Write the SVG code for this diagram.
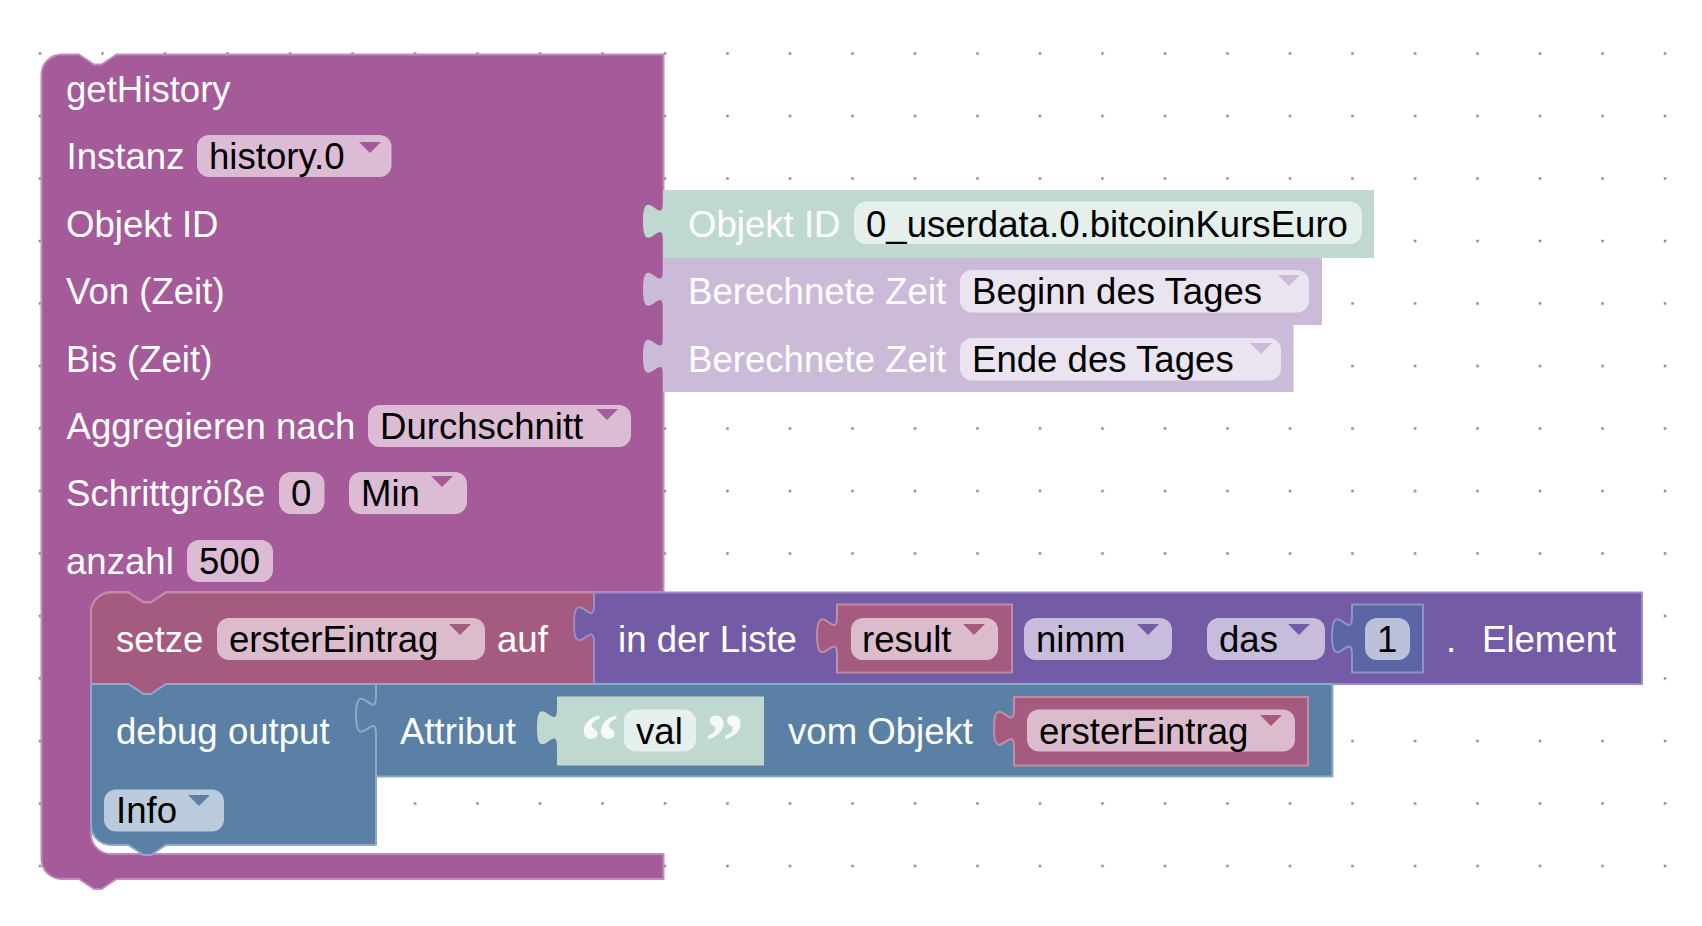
<svg xmlns="http://www.w3.org/2000/svg" width="1702" height="926" viewBox="0 0 1702 926">
<style>
text{font-family:"Liberation Sans",Arial,sans-serif;font-size:36.6px}
.l{fill:#fff}.f{fill:#000}
.b{stroke-width:2;stroke-linejoin:round}
.proc{fill:#a55b99;stroke:#c08cb8}
.rose{fill:#a55b80;stroke:#c08ca6}
.list{fill:#745ba5;stroke:#9e8cc4}
.dbg{fill:#5b80a5;stroke:#8daac8}
.num{fill:#5b67a5;stroke:#8c95c4}
.teal{fill:#bfd9d0}
.lav{fill:#cbbbd9}
.pp{fill:#dcbcd5}.pr{fill:#dcbccc}.pl{fill:#c7bcdc}.pd{fill:#bccbdb}.pn{fill:#bcc1db}.pt{fill:#e5f0ec}.pv{fill:#eae4f0}
.ap{fill:#a55b99}.ar{fill:#a55b80}.al{fill:#745ba5}.ad{fill:#5b80a5}.av{fill:#cbbbd9}
.q{font-family:"Liberation Serif",serif;font-size:78px;font-weight:bold;fill:#fff;opacity:.85}
</style>
<defs>
<pattern id="grid" x="40" y="53.5" width="62.5" height="62.5" patternUnits="userSpaceOnUse">
<rect x="0" y="0" width="2.5" height="2.5" fill="#888"/>
</pattern>
</defs>
<rect id="grid-bg" width="1702" height="926" fill="url(#grid)" transform="translate(-1.25 -1.25)"/>
<g id="connectors"/>
<g id="getHistory">
<path class="b proc" d="M41.5,74.5 A20,20 0 0 1 61.5,54.5 H79 l15,10 7.5,0 15,-10 H663.5 V592 H166 l-15,10 -7.5,0 -15,-10 H111 a20,20 0 0 0 -20,20 V834 a20,20 0 0 0 20,20 H663.5 V879 H116.5 l-15,10 -7.5,0 -15,-10 H61.5 A20,20 0 0 1 41.5,859 Z"/>
<text class="l" x="66" y="102">getHistory</text>
<text class="l" x="66.5" y="169">Instanz</text>
<rect class="pp" x="197" y="135" width="194.5" height="42" rx="12"/>
<text class="f" x="209" y="169">history.0</text>
<path class="ap" d="M359,142 h22 l-11,11 Z"/>
<text class="l" x="66" y="237">Objekt ID</text>
<text class="l" x="66" y="304">Von (Zeit)</text>
<text class="l" x="66" y="372">Bis (Zeit)</text>
<text class="l" x="66.5" y="439">Aggregieren nach</text>
<rect class="pp" x="368" y="405" width="263" height="42" rx="12"/>
<text class="f" x="380" y="439">Durchschnitt</text>
<path class="ap" d="M596,409 h22 l-11,11 Z"/>
<text class="l" x="66" y="506">Schrittgröße</text>
<rect class="pp" x="279" y="472" width="45.5" height="42" rx="12"/>
<text class="f" x="291" y="506">0</text>
<rect class="pp" x="349" y="472" width="118" height="42" rx="12"/>
<text class="f" x="361" y="506">Min</text>
<path class="ap" d="M431,476 h22 l-11,11 Z"/>
<text class="l" x="66" y="574">anzahl</text>
<rect class="pp" x="187" y="540" width="86" height="42" rx="12"/>
<text class="f" x="199" y="574">500</text>
</g>
<g id="objekt-id">
<path class="teal" d="M663,190 v12.5 c0,25 -20,-20 -20,18.75 s20,-6.25 20,18.75 V258 H1374 V190 Z"/>
<text class="l" x="688" y="237">Objekt ID</text>
<rect class="pt" x="854" y="201.5" width="508" height="42.5" rx="12"/>
<text class="f" x="866" y="237">0_userdata.0.bitcoinKursEuro</text>
</g>
<g id="zeit-von">
<path class="lav" d="M663,258 v12.5 c0,25 -20,-20 -20,18.75 s20,-6.25 20,18.75 V325 H1322 V258 Z"/>
<text class="l" x="688" y="304">Berechnete Zeit</text>
<rect class="pv" x="960" y="270" width="349" height="42.5" rx="12"/>
<text class="f" x="972" y="304">Beginn des Tages</text>
<path class="av" d="M1278,275 h22 l-11,11 Z"/>
</g>
<g id="zeit-bis">
<path class="lav" d="M663,325 v12.5 c0,25 -20,-20 -20,18.75 s20,-6.25 20,18.75 V392 H1293.5 V325 Z"/>
<text class="l" x="688" y="372">Berechnete Zeit</text>
<rect class="pv" x="960" y="338" width="321" height="42.5" rx="12"/>
<text class="f" x="972" y="372">Ende des Tages</text>
<path class="av" d="M1250,343 h22 l-11,11 Z"/>
</g>
<g id="setze">
<path class="b rose" d="M91,612.5 a20,20 0 0 1 20,-20 H128.5 l15,10 7.5,0 15,-10 H594 V684 H166 l-15,10 -7.5,0 -15,-10 H91 Z"/>
<text class="l" x="116" y="652">setze</text>
<rect class="pr" x="217" y="618" width="268" height="42" rx="12"/>
<text class="f" x="229" y="652">ersterEintrag</text>
<path class="ar" d="M449,624 h22 l-11,11 Z"/>
<text class="l" x="497" y="652">auf</text>
</g>
<g id="liste">
<path class="b list" d="M594,592.5 v12.5 c0,25 -20,-20 -20,18.75 s20,-6.25 20,18.75 V684 H1642 V592.5 Z"/>
<text class="l" x="618" y="652">in der Liste</text>
<rect class="pl" x="1024" y="618" width="148" height="42" rx="12"/>
<text class="f" x="1036" y="652">nimm</text>
<path class="al" d="M1137,624 h22 l-11,11 Z"/>
<rect class="pl" x="1207" y="618" width="118" height="42" rx="12"/>
<text class="f" x="1219" y="652">das</text>
<path class="al" d="M1288,624 h22 l-11,11 Z"/>
<text class="l" x="1446" y="652">.</text>
<text class="l" x="1482" y="652">Element</text>
</g>
<g id="result">
<path class="b rose" d="M837,604.5 v12.5 c0,25 -20,-20 -20,18.75 s20,-6.25 20,18.75 V672.5 H1012 V604.5 Z"/>
<rect class="pr" x="851" y="618" width="147" height="42" rx="12"/>
<text class="f" x="862" y="652">result</text>
<path class="ar" d="M963,624 h22 l-11,11 Z"/>
</g>
<g id="num1">
<path class="b num" d="M1352,604.5 v12.5 c0,25 -20,-20 -20,18.75 s20,-6.25 20,18.75 V672.5 H1423 V604.5 Z"/>
<rect class="pn" x="1365" y="618" width="45" height="42" rx="12"/>
<text class="f" x="1377" y="652">1</text>
</g>
<g id="debug">
<path class="b dbg" d="M91,684 H128.5 l15,10 7.5,0 15,-10 H376 V845 H166 l-15,10 -7.5,0 -15,-10 H111 a20,20 0 0 1 -20,-20 Z"/>
<text class="l" x="116" y="744">debug output</text>
<rect class="pd" x="104" y="789.5" width="120" height="42" rx="12"/>
<text class="f" x="116" y="823">Info</text>
<path class="ad" d="M188,795 h22 l-11,11 Z"/>
</g>
<g id="attribut">
<path class="b dbg" d="M376,684 v12.5 c0,25 -20,-20 -20,18.75 s20,-6.25 20,18.75 V776.5 H1332.5 V684 Z"/>
<text class="l" x="400" y="744">Attribut</text>
<text class="l" x="788" y="744">vom Objekt</text>
</g>
<g id="val">
<path class="teal" d="M557,696.5 v12.5 c0,25 -20,-20 -20,18.75 s20,-6.25 20,18.75 V765.5 H764 V696.5 Z"/>
<text class="q" x="580" y="767">“</text>
<rect class="pt" x="624" y="709.5" width="72" height="42" rx="12"/>
<text class="f" x="636" y="744">val</text>
<text class="q" x="705" y="767">”</text>
</g>
<g id="ersterEintrag">
<path class="b rose" d="M1014,697 v12.5 c0,25 -20,-20 -20,18.75 s20,-6.25 20,18.75 V765.5 H1308 V697 Z"/>
<rect class="pr" x="1027" y="709.5" width="268" height="42" rx="12"/>
<text class="f" x="1039" y="744">ersterEintrag</text>
<path class="ar" d="M1260,715 h22 l-11,11 Z"/>
</g>
</svg>
